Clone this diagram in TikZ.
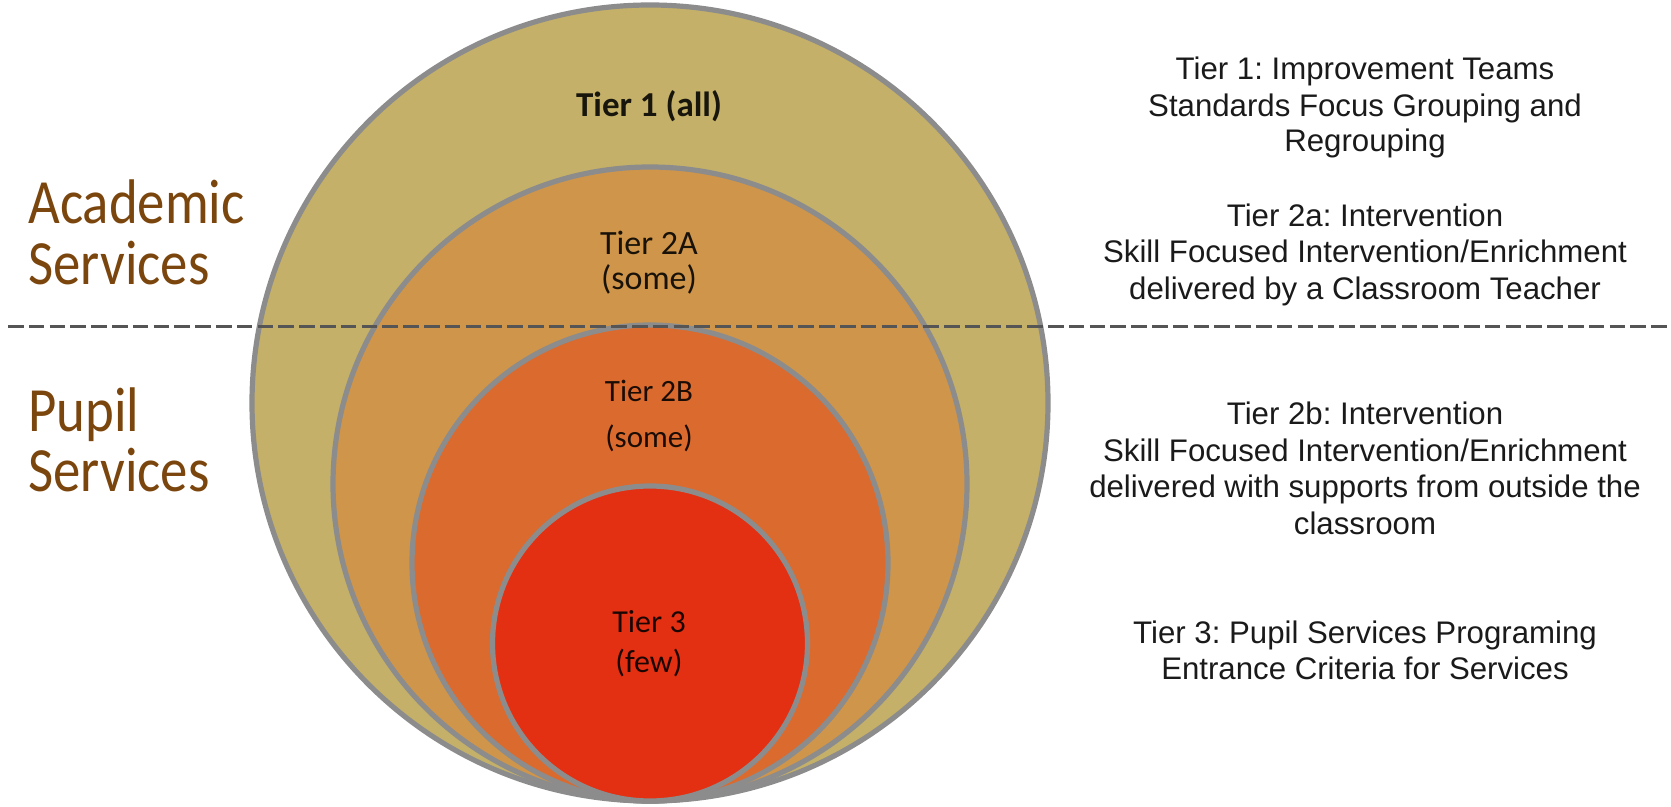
\documentclass[tikz,border=0pt]{standalone}
\usepackage{fontspec}
\setmainfont{Liberation Sans}
\newfontfamily\calfont{Carlito}
\newfontfamily\calnarrow[FakeStretch=0.87]{Carlito}
\definecolor{tierA}{HTML}{C4B068}
\definecolor{tierB}{HTML}{CF954A}
\definecolor{tierC}{HTML}{DB6A2E}
\definecolor{tierD}{HTML}{E33012}
\definecolor{ring}{HTML}{8C8C8C}
\definecolor{brownlbl}{HTML}{7B460E}
\definecolor{dashcol}{HTML}{555555}
\definecolor{desc}{HTML}{1A1A1A}
\frenchspacing
\begin{document}
\begin{tikzpicture}[x=0.5pt,y=-0.5pt,
  tiercircle/.style={circle,draw=ring,line width=2.6pt,inner sep=0pt,outer sep=0pt},
  inlbl/.style={inner sep=0pt,anchor=base,text=black,text opacity=0.88,font=\calfont\fontsize{#1}{#1}\selectfont},
  sidelbl/.style={inner sep=0pt,anchor=base west,text=brownlbl,font=\calnarrow\fontsize{31.5}{31.5}\selectfont},
  desctxt/.style={inner sep=0pt,anchor=base,text=desc,font=\fontsize{15.6}{15.6}\selectfont}]
\useasboundingbox (0,0) rectangle (1671,807);
% circles
\node[tiercircle,fill=tierA,minimum size=398pt] (c1) at (650,403) {};
\node[tiercircle,fill=tierB,minimum size=317pt] (c2) at (650,484) {};
\node[tiercircle,fill=tierC,minimum size=238pt] (c3) at (650,563) {};
\node[tiercircle,fill=tierD,minimum size=157.5pt] (c4) at (650,643.5) {};
% circle labels
\node[inlbl=17.5] (t1) at (649,117) {\bfseries Tier 1 (all)};
\node[inlbl=17] (t2a) at (649,255) {Tier 2A};
\node[inlbl=17] (t2as) at (649,290) {(some)};
\node[inlbl=15.5] (t2b) at (649,402) {Tier 2B};
\node[inlbl=15.5] (t2bs) at (649,448) {(some)};
\node[inlbl=16] (t3) at (649,632) {Tier 3};
\node[inlbl=16] (t3s) at (649,672) {(few)};
% dashed divider
\coordinate (dl) at (8,327);
\coordinate (dr) at (1671,327);
\draw[dashcol,line width=1.5pt,dash pattern=on 7.75pt off 2.65pt] (dl) -- (dr);
% left labels
\node[sidelbl] (acad) at (28,224) {Academic};
\node[sidelbl] (acads) at (28,285) {Services};
\node[sidelbl] (pup) at (28,432) {Pupil};
\node[sidelbl] (pups) at (28,492) {Services};
% right descriptions
\node[desctxt] (d1a) at (1365,80) {Tier 1: Improvement Teams};
\node[desctxt] (d1b) at (1365,117) {Standards Focus Grouping and};
\node[desctxt] (d1c) at (1365,152) {Regrouping};
\node[desctxt] (d2a) at (1365,227) {Tier 2a: Intervention};
\node[desctxt] (d2b) at (1365,263) {Skill Focused Intervention/Enrichment};
\node[desctxt] (d2c) at (1365,300) {delivered by a Classroom Teacher};
\node[desctxt] (d3a) at (1365,425) {Tier 2b: Intervention};
\node[desctxt] (d3b) at (1365,462) {Skill Focused Intervention/Enrichment};
\node[desctxt] (d3c) at (1365,498) {delivered with supports from outside the};
\node[desctxt] (d3d) at (1365,535) {classroom};
\node[desctxt] (d4a) at (1365,643) {Tier 3: Pupil Services Programing};
\node[desctxt] (d4b) at (1365,679) {Entrance Criteria for Services};
\end{tikzpicture}
\end{document}
